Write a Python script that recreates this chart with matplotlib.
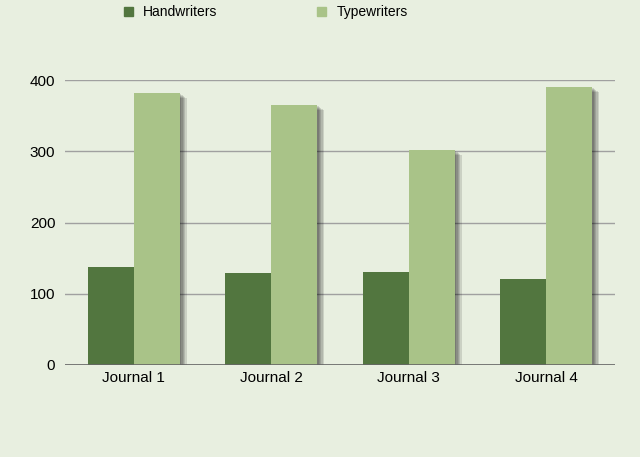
import numpy as np
import matplotlib.pyplot as plt
import matplotlib.patheffects as pe
from matplotlib.patches import Patch

journals = ["Journal 1", "Journal 2", "Journal 3", "Journal 4"]
handwriters = [138, 129, 130, 121]
typewriters = [382, 365, 302, 390]

bg = "#e8efe0"
dark = "#52763f"
light = "#a9c388"

plt.rcParams['font.family'] = ['Liberation Sans', 'DejaVu Sans']

fig = plt.figure(figsize=(6.4, 4.57), dpi=100, facecolor=bg)
ax = fig.add_axes([65/640, (457-365)/457, 550/640, 285/457])
ax.set_facecolor(bg)

x = np.arange(len(journals))
w = 0.335
# soft drop shadow: a few stacked translucent offsets
shadow = [pe.SimplePatchShadow(offset=(d, -d * 0.7), shadow_rgbFace="black", alpha=0.12)
          for d in (1, 2, 3, 4, 5)] + [pe.Normal()]
b1 = ax.bar(x - w/2, handwriters, w, color=dark, zorder=3, path_effects=shadow)
b2 = ax.bar(x + w/2, typewriters, w, color=light, zorder=3, path_effects=shadow)

ax.set_xlim(-0.5, len(journals) - 0.5)
ax.set_ylim(0, 400)
ax.set_yticks([0, 100, 200, 300, 400])
ax.yaxis.grid(True, color="#a0a0a0", linewidth=1, zorder=0)
ax.axhline(0, color="#666666", linewidth=1.2, zorder=4)
ax.set_xticks(x)
ax.set_xticklabels(journals, fontsize=11)
ax.tick_params(length=0, labelsize=11, pad=4)
ax.tick_params(axis='y', pad=7)
for s in ax.spines.values():
    s.set_visible(False)

handles = [Patch(color=dark), Patch(color=light)]
fig.legend(handles, ["Handwriters", "Typewriters"], loc="upper left",
           bbox_to_anchor=(117/640, 1.004), ncol=2, frameon=False, fontsize=10,
           borderpad=0, handlelength=0.65, handleheight=0.65,
           columnspacing=7.2, handletextpad=0.72)

fig.savefig("out.png", dpi=100, facecolor=bg)
